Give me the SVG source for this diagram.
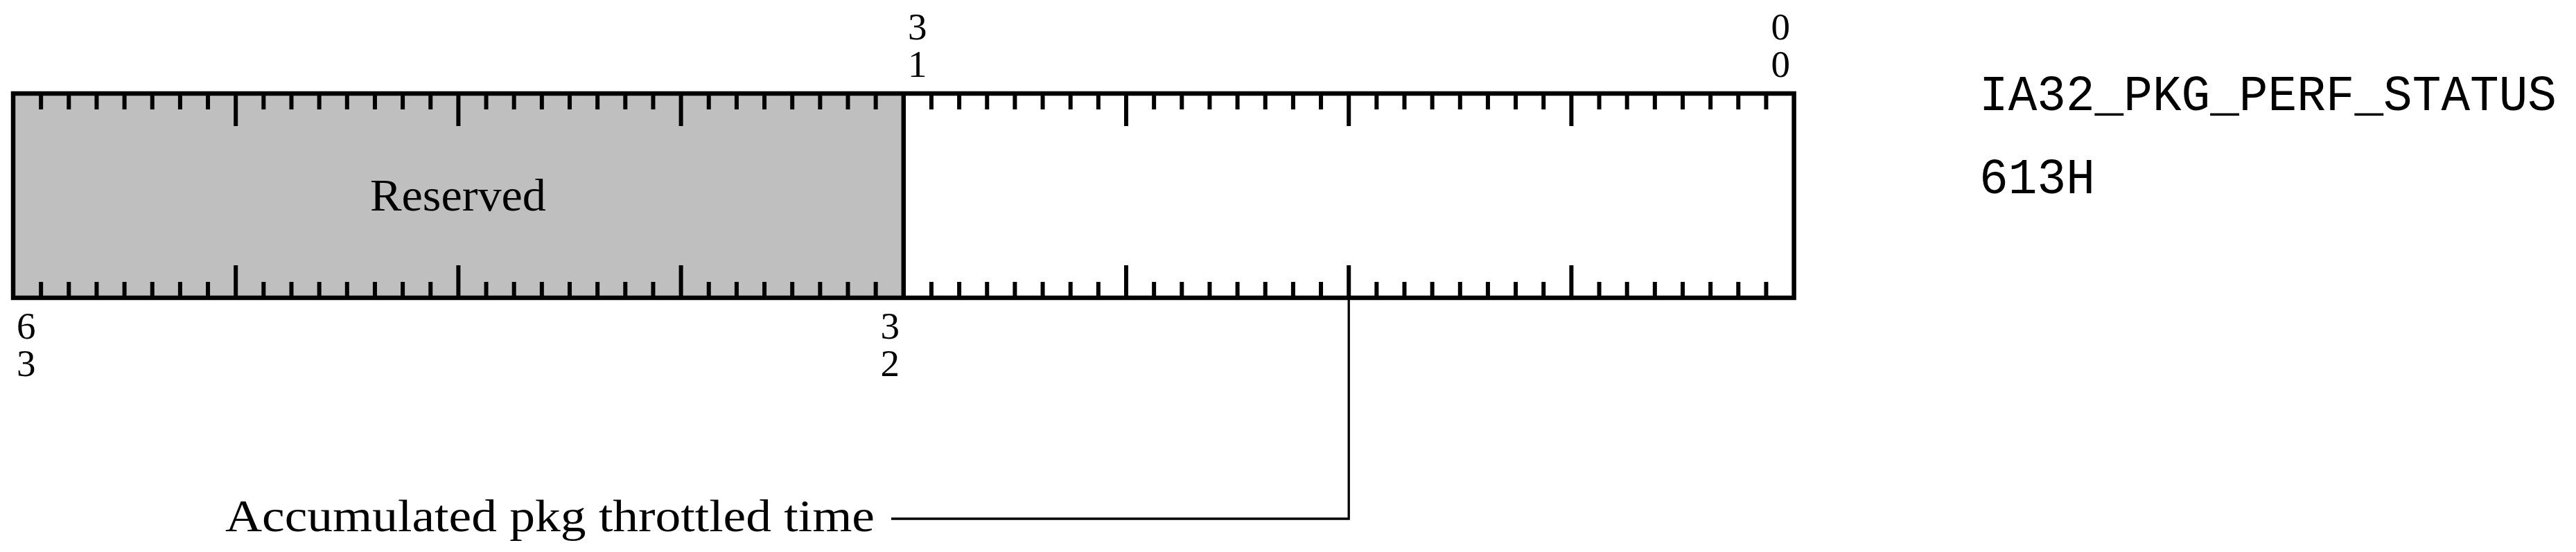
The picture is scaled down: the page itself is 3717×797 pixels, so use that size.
<svg xmlns="http://www.w3.org/2000/svg" width="3717" height="797" viewBox="0 0 3717 797">
<style>
.box{fill:none;stroke:#000;stroke-width:6.5}
.tick{fill:none;stroke:#000;stroke-width:6}
.conn{fill:none;stroke:#000;stroke-width:3.3}
.num{font-family:"Liberation Serif","DejaVu Serif",serif;font-size:55px;fill:#000}
.lbl{font-family:"Liberation Serif","DejaVu Serif",serif;font-size:66px;fill:#000}
.mono{font-family:"Liberation Mono","DejaVu Sans Mono",monospace;font-size:72px;fill:#000}
</style>
<rect width="3717" height="797" fill="#fff"/>
<g id="reserved-field">
<rect x="19" y="135" width="1284.8" height="295" fill="#bfbfbf"/>
<text class="lbl" x="661" y="304" text-anchor="middle" textLength="254" lengthAdjust="spacingAndGlyphs">Reserved</text>
</g>
<g id="time-field">
<rect x="1303.8" y="135" width="1284.8" height="295" fill="#fff"/>
</g>
<g id="register">
<path class="tick" d="M59.15 135v23M59.15 430v-23M99.3 135v23M99.3 430v-23M139.45 135v23M139.45 430v-23M179.6 135v23M179.6 430v-23M219.75 135v23M219.75 430v-23M259.9 135v23M259.9 430v-23M300.05 135v23M300.05 430v-23M380.35 135v23M380.35 430v-23M420.5 135v23M420.5 430v-23M460.65 135v23M460.65 430v-23M500.8 135v23M500.8 430v-23M540.95 135v23M540.95 430v-23M581.1 135v23M581.1 430v-23M621.25 135v23M621.25 430v-23M701.55 135v23M701.55 430v-23M741.7 135v23M741.7 430v-23M781.85 135v23M781.85 430v-23M822 135v23M822 430v-23M862.15 135v23M862.15 430v-23M902.3 135v23M902.3 430v-23M942.45 135v23M942.45 430v-23M1022.75 135v23M1022.75 430v-23M1062.9 135v23M1062.9 430v-23M1103.05 135v23M1103.05 430v-23M1143.2 135v23M1143.2 430v-23M1183.35 135v23M1183.35 430v-23M1223.5 135v23M1223.5 430v-23M1263.65 135v23M1263.65 430v-23M1343.95 135v23M1343.95 430v-23M1384.1 135v23M1384.1 430v-23M1424.25 135v23M1424.25 430v-23M1464.4 135v23M1464.4 430v-23M1504.55 135v23M1504.55 430v-23M1544.7 135v23M1544.7 430v-23M1584.85 135v23M1584.85 430v-23M1665.15 135v23M1665.15 430v-23M1705.3 135v23M1705.3 430v-23M1745.45 135v23M1745.45 430v-23M1785.6 135v23M1785.6 430v-23M1825.75 135v23M1825.75 430v-23M1865.9 135v23M1865.9 430v-23M1906.05 135v23M1906.05 430v-23M1986.35 135v23M1986.35 430v-23M2026.5 135v23M2026.5 430v-23M2066.65 135v23M2066.65 430v-23M2106.8 135v23M2106.8 430v-23M2146.95 135v23M2146.95 430v-23M2187.1 135v23M2187.1 430v-23M2227.25 135v23M2227.25 430v-23M2307.55 135v23M2307.55 430v-23M2347.7 135v23M2347.7 430v-23M2387.85 135v23M2387.85 430v-23M2428 135v23M2428 430v-23M2468.15 135v23M2468.15 430v-23M2508.3 135v23M2508.3 430v-23M2548.45 135v23M2548.45 430v-23"/>
<path class="tick" d="M340.2 135v47M340.2 430v-47M661.4 135v47M661.4 430v-47M982.6 135v47M982.6 430v-47M1625 135v47M1625 430v-47M1946.2 135v47M1946.2 430v-47M2267.4 135v47M2267.4 430v-47"/>
<rect class="box" x="19" y="135" width="2569.6" height="295"/>
<line class="box" x1="1303.8" y1="135" x2="1303.8" y2="430"/>
</g>
<g id="bit-labels">
<text class="num"><tspan x="1310" y="57">3</tspan><tspan x="1310" y="111">1</tspan></text>
<text class="num" text-anchor="end"><tspan x="2583" y="57">0</tspan><tspan x="2583" y="111">0</tspan></text>
<text class="num"><tspan x="24" y="489">6</tspan><tspan x="24" y="543">3</tspan></text>
<text class="num" text-anchor="end"><tspan x="1298" y="489">3</tspan><tspan x="1298" y="543">2</tspan></text>
</g>
<g id="register-name">
<text class="mono" x="2856" y="159" textLength="833" lengthAdjust="spacingAndGlyphs">IA32_PKG_PERF_STATUS</text>
<text class="mono" x="2856" y="279" textLength="167" lengthAdjust="spacingAndGlyphs">613H</text>
</g>
<g id="connectors">
<path class="conn" d="M1946.2 430V749H1286"/>
</g>
<g id="field-label">
<text class="lbl" x="325" y="767" textLength="937" lengthAdjust="spacingAndGlyphs">Accumulated pkg throttled time</text>
</g>
</svg>
